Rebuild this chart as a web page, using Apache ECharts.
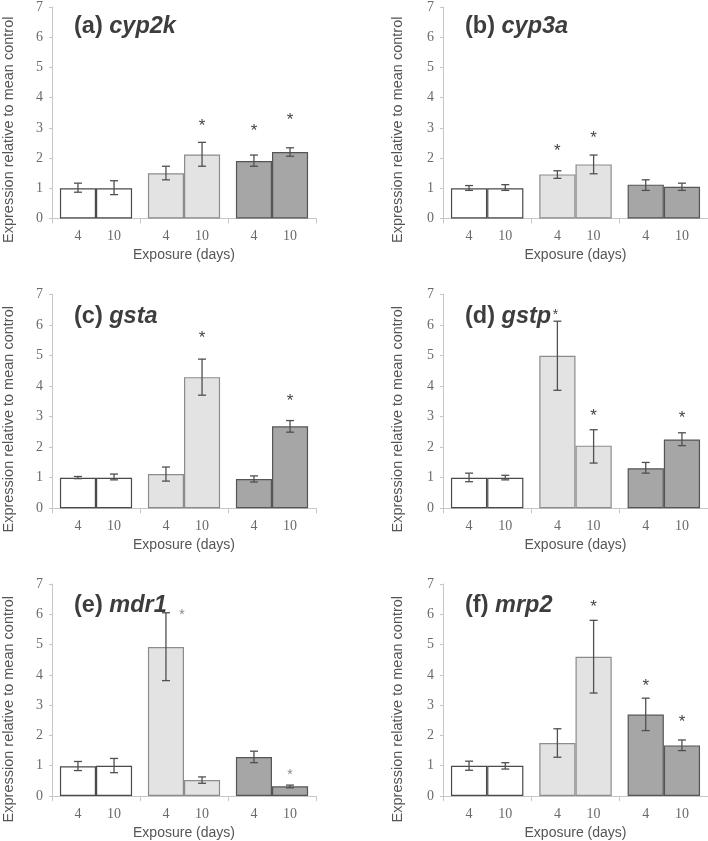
<!DOCTYPE html>
<html><head><meta charset="utf-8">
<script src="https://cdn.jsdelivr.net/npm/echarts@6/dist/echarts.min.js"></script>
<style>html,body{margin:0;padding:0;background:#fff}#c{width:708px;height:841px}</style>
</head><body><div id="c"></div><script>
// ---------------- DATA ----------------
const groups = ['G1', 'G2', 'G3'];
const dayLabels = ['4', '10'];
const yMin = 0, yMax = 7, yStep = 1;
const panelLabels = ['(a)', '(b)', '(c)', '(d)', '(e)', '(f)'];
const genes = ['cyp2k', 'cyp3a', 'gsta', 'gstp', 'mdr1', 'mrp2'];
const xTitle = 'Exposure (days)';
const yTitle = 'Expression relative to mean control';

// order of each array: [G1 4d, G1 10d, G2 4d, G2 10d, G3 4d, G3 10d]
const cyp2kMean = [1.00, 1.00, 1.50, 2.12, 1.90, 2.20];
const cyp2kLow  = [0.87, 0.79, 1.28, 1.73, 1.73, 2.06];
const cyp2kHigh = [1.17, 1.25, 1.73, 2.52, 2.10, 2.34];
const cyp2kStar = [null, null, null, 3.17, 3.01, 3.37];

const cyp3aMean = [1.00, 1.00, 1.46, 1.79, 1.12, 1.05];
const cyp3aLow  = [0.93, 0.93, 1.33, 1.48, 0.93, 0.93];
const cyp3aHigh = [1.09, 1.12, 1.58, 2.10, 1.28, 1.17];
const cyp3aStar = [null, null, 2.35, 2.75, null, null];

const gstaMean = [1.00, 1.00, 1.12, 4.29, 0.96, 2.68];
const gstaLow  = [0.97, 0.93, 0.89, 3.70, 0.86, 2.49];
const gstaHigh = [1.04, 1.12, 1.35, 4.88, 1.06, 2.87];
const gstaStar = [null, null, null, 5.66, null, 3.61];

const gstpMean = [1.00, 1.00, 4.99, 2.05, 1.31, 2.25];
const gstpLow  = [0.87, 0.93, 3.86, 1.48, 1.15, 2.05];
const gstpHigh = [1.15, 1.08, 6.12, 2.57, 1.50, 2.47];
const gstpStar = [null, null, 6.42, 3.12, null, 3.04];

const mdr1Mean = [0.98, 1.00, 4.92, 0.53, 1.29, 0.32];
const mdr1Low  = [0.84, 0.77, 3.81, 0.42, 1.10, 0.27];
const mdr1High = [1.14, 1.24, 6.05, 0.63, 1.48, 0.36];
const mdr1Star = [null, null, 6.07, null, null, 0.77];

const mrp2Mean = [1.00, 1.00, 1.75, 4.60, 2.69, 1.67];
const mrp2Low  = [0.85, 0.89, 1.28, 3.40, 2.16, 1.50];
const mrp2High = [1.15, 1.10, 2.22, 5.80, 3.23, 1.85];
const mrp2Star = [null, null, null, 6.35, 3.75, 2.54];

const meanSets = [cyp2kMean, cyp3aMean, gstaMean, gstpMean, mdr1Mean, mrp2Mean];
const lowSets  = [cyp2kLow, cyp3aLow, gstaLow, gstpLow, mdr1Low, mrp2Low];
const highSets = [cyp2kHigh, cyp3aHigh, gstaHigh, gstpHigh, mdr1High, mrp2High];
const starSets = [cyp2kStar, cyp3aStar, gstaStar, gstpStar, mdr1Star, mrp2Star];

// ---------------- STYLE / LAYOUT ----------------
const cols = [{ left: 52, width: 264 }, { left: 443, width: 265 }];
const rows = [{ top: 5, height: 213.5 }, { top: 294.3, height: 214 }, { top: 584, height: 214.3 }];
const groupStyles = [
  { color: '#ffffff', borderColor: '#4a4a4a', borderWidth: 1.2 },
  { color: '#e3e3e3', borderColor: '#8c8c8c', borderWidth: 1.2 },
  { color: '#a6a6a6', borderColor: '#555555', borderWidth: 1.2 }
];
const catGap = 0.18;
const starShift = { 3: { 2: -2 }, 4: { 2: 16 } }; // panel -> bar index -> px
// star style: 0 normal, 1 light grey, 2 small dark
const starKind = { 3: { 2: 2 }, 4: { 2: 1, 5: 1 } };
const axisGrey = '#c6c6c6';
const tickFont = 'Liberation Serif';
const sansFont = 'Liberation Sans';

const grid = [], xAxis = [], yAxis = [], series = [], graphic = [];

for (let p = 0; p < 6; p++) {
  const c = cols[p % 2], r = rows[Math.floor(p / 2)];
  grid.push({ left: c.left, top: r.top, width: c.width, height: r.height, containLabel: false });
  xAxis.push({
    gridIndex: p, type: 'category', data: groups,
    axisLine: { lineStyle: { color: axisGrey, width: 1 } },
    axisTick: { show: true, length: 5, lineStyle: { color: axisGrey } },
    axisLabel: { show: false },
    name: xTitle, nameLocation: 'middle', nameGap: 30,
    nameTextStyle: { fontFamily: sansFont, fontSize: 14, color: '#555' }
  });
  yAxis.push({
    gridIndex: p, type: 'value', min: yMin, max: yMax, interval: yStep,
    axisLine: { show: true, lineStyle: { color: axisGrey, width: 1 } },
    axisTick: { show: true, length: 3, lineStyle: { color: axisGrey } },
    splitLine: { show: false },
    axisLabel: { fontFamily: tickFont, fontSize: 14, color: '#6a6a6a', margin: 9 }
  });
  const mean = meanSets[p], low = lowSets[p], high = highSets[p], star = starSets[p];
  for (let d = 0; d < 2; d++) {
    series.push({
      type: 'bar', name: dayLabels[d], xAxisIndex: p, yAxisIndex: p,
      barGap: '0%', barCategoryGap: (catGap * 100) + '%',
      data: groups.map((g, gi) => ({ value: mean[gi * 2 + d], itemStyle: groupStyles[gi] })),
      label: {
        show: true, position: 'bottom', distance: 11, formatter: dayLabels[d],
        fontFamily: tickFont, fontSize: 14, color: '#6a6a6a'
      },
      emphasis: { disabled: true }
    });
  }
  const errData = [], starData = [];
  for (let gi = 0; gi < 3; gi++) for (let d = 0; d < 2; d++) {
    const k = gi * 2 + d;
    errData.push([gi, low[k], high[k], d]);
    if (star[k] != null) starData.push([gi, star[k], d, (starShift[p] && starShift[p][k]) || 0, (starKind[p] && starKind[p][k]) || 0]);
  }
  series.push({
    type: 'custom', xAxisIndex: p, yAxisIndex: p, z: 5,
    encode: { x: 0, y: [1, 2] },
    data: errData,
    renderItem: function (params, api) {
      const g = api.value(0), lo = api.value(1), hi = api.value(2), d = api.value(3);
      const band = api.size([1, 0])[0];
      const bw = band * (1 - catGap) / 2;
      const pl = api.coord([g, lo]), ph = api.coord([g, hi]);
      const x = pl[0] + (d === 0 ? -0.5 : 0.5) * bw;
      const cap = 4;
      const st = { stroke: '#505050', lineWidth: 1.3 };
      return {
        type: 'group', children: [
          { type: 'line', shape: { x1: x, y1: pl[1], x2: x, y2: ph[1] }, style: st },
          { type: 'line', shape: { x1: x - cap, y1: pl[1], x2: x + cap, y2: pl[1] }, style: st },
          { type: 'line', shape: { x1: x - cap, y1: ph[1], x2: x + cap, y2: ph[1] }, style: st }
        ]
      };
    }
  });
  series.push({
    type: 'custom', xAxisIndex: p, yAxisIndex: p, z: 6,
    encode: { x: 0, y: 1 },
    data: starData,
    renderItem: function (params, api) {
      const g = api.value(0), v = api.value(1), d = api.value(2), sh = api.value(3), kind = api.value(4);
      const band = api.size([1, 0])[0];
      const bw = band * (1 - catGap) / 2;
      const pt = api.coord([g, v]);
      const x = pt[0] + (d === 0 ? -0.5 : 0.5) * bw + sh;
      const size = kind === 0 ? 17 : 14;
      const fill = kind === 1 ? '#888' : '#444';
      return {
        type: 'text', x: x, y: pt[1] - size * 0.3,
        style: { text: '*', font: size + 'px "Liberation Sans"', fill: fill, align: 'center', verticalAlign: 'top', textAlign: 'center', textVerticalAlign: 'top' }
      };
    }
  });
  // y-axis title
  graphic.push({
    type: 'text', x: (p % 2 === 0 ? 8.5 : 397.5), y: r.top + r.height / 2 + 18, rotation: Math.PI / 2,
    style: { text: yTitle, font: '14.5px "Liberation Sans"', fill: '#555', align: 'center', verticalAlign: 'middle', textAlign: 'center', textVerticalAlign: 'middle' }
  });
  // panel title
  graphic.push({
    type: 'text', x: (p % 2 === 0 ? 74 : 465), y: r.top + 22,
    style: {
      text: '{n|' + panelLabels[p] + ' }{g|' + genes[p] + '}',
      rich: {
        n: { fontFamily: sansFont, fontWeight: 'bold', fontSize: 23.5, fill: '#3d3d3d', color: '#3d3d3d' },
        g: { fontFamily: sansFont, fontWeight: 'bold', fontStyle: 'italic', fontSize: 23.5, fill: '#3d3d3d', color: '#3d3d3d' }
      },
      verticalAlign: 'middle', textVerticalAlign: 'middle'
    }
  });
}

const chart = echarts.init(document.getElementById('c'), null, { renderer: 'canvas' });
chart.setOption({
  animation: false,
  backgroundColor: '#ffffff',
  grid: grid, xAxis: xAxis, yAxis: yAxis, series: series, graphic: graphic
});
</script></body></html>
